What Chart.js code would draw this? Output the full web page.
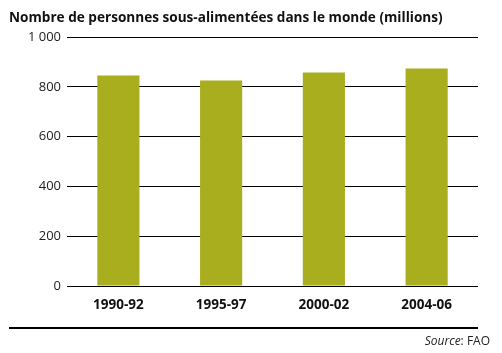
<!DOCTYPE html>
<html>
<head>
<meta charset="utf-8">
<script src="https://cdn.jsdelivr.net/npm/chart.js@4"></script>
<style>
  body { margin: 0; background: #fff; font-family: "Open Sans", sans-serif; }
  #wrap { position: relative; width: 502px; height: 353px; }
  #title { position: absolute; left: 9px; top: 7px; font-size: 13.6px; font-weight: bold; color: #111; white-space: nowrap; }
  #rule { position: absolute; left: 9px; top: 327px; width: 469px; height: 2px; background: #000; }
  #source { position: absolute; right: 12px; top: 332px; font-size: 12px; color: #222; }
  canvas { position: absolute; left: 0; top: 0; }
</style>
</head>
<body>
<div id="wrap">
  <canvas id="myBarChart" width="502" height="353"></canvas>
  <div id="title">Nombre de personnes sous-alimentées dans le monde (millions)</div>
  <div id="rule"></div>
  <div id="source"><i>Source</i>: FAO</div>
</div>
<script>
// données
var periodes = ['1990-92', '1995-97', '2000-02', '2004-06'];
var sousAlimentes = [845, 825, 857, 873];
var yTicks = [0, 200, 400, 600, 800, 1000];

var ctx = document.getElementById('myBarChart').getContext('2d');

var myBarChart = new Chart(ctx, {
    type: 'bar',
    data: {
        labels: periodes,
        datasets: [{
            data: sousAlimentes,
            backgroundColor: '#a8ae1d',
            borderWidth: 0,
            categoryPercentage: 1,
            barPercentage: 0.41
        }]
    },
    options: {
        responsive: false,
        animation: false,
        layout: { padding: { left: 0, right: 24, top: 37, bottom: 37 } },
        plugins: { legend: { display: false }, tooltip: { enabled: false } },
        scales: {
            x: {
                grid: { display: false, drawTicks: false },
                border: { display: false },
                ticks: { padding: 11, color: '#111', font: { family: 'Open Sans', size: 13.5, weight: 'bold' } },
                afterFit: function (s) { s.height = 30; }
            },
            y: {
                min: 0,
                max: 1000,
                afterBuildTicks: function (s) { s.ticks = yTicks.map(function (v) { return { value: v }; }); },
                grid: { color: '#000', lineWidth: 1, drawTicks: false },
                border: { display: false },
                ticks: {
                    padding: 6,
                    color: '#222',
                    font: { family: 'Open Sans', size: 13 },
                    callback: function (v) { return v >= 1000 ? '1 000' : String(v); }
                },
                afterFit: function (s) { s.width = 67; }
            }
        }
    }
});
</script>
</body>
</html>
